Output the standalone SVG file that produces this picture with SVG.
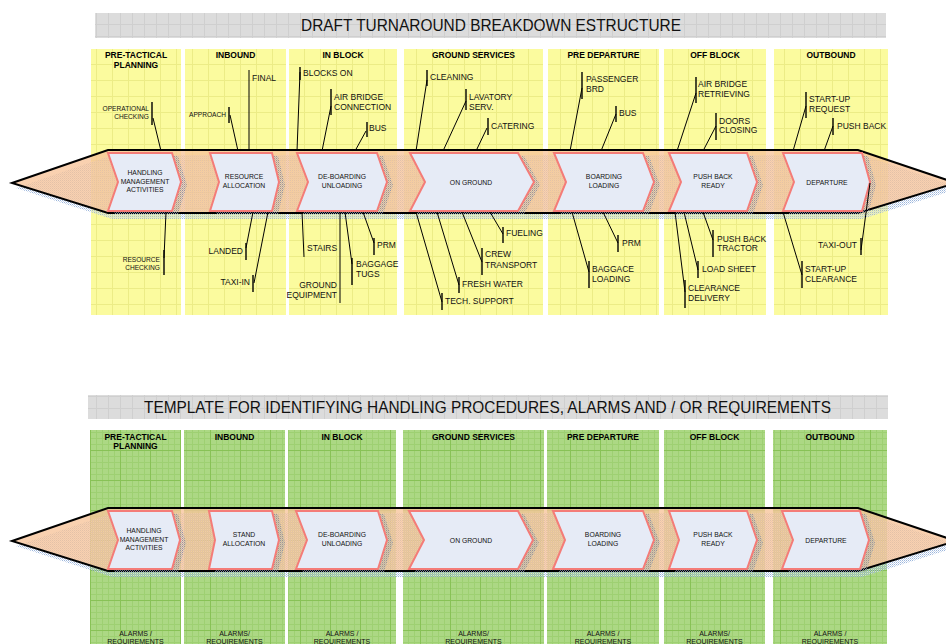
<svg xmlns="http://www.w3.org/2000/svg" width="946" height="644" viewBox="0 0 946 644">
  <style>
    .hdr{font-family:"Liberation Sans",Arial,sans-serif;font-weight:bold;font-size:8.5px;fill:#000;text-anchor:middle}
    .lbl{font-family:"Liberation Sans",Arial,sans-serif;font-size:8.5px;fill:#111}
    .sm{font-family:"Liberation Sans",Arial,sans-serif;font-size:6.6px;fill:#111}
    .nt{font-family:"Liberation Sans",Arial,sans-serif;font-size:6.8px;fill:#111;text-anchor:middle}
    .al{font-family:"Liberation Sans",Arial,sans-serif;font-size:7px;fill:#111;text-anchor:middle}
    .ttl{font-family:"Liberation Sans",Arial,sans-serif;font-size:17px;fill:#111;text-anchor:middle}
    .end{text-anchor:end}
    .chev{fill:#e6ebf6;stroke:#f47c78;stroke-width:2}
    .csh{fill:url(#dots);opacity:.8}
    .band{fill:#f7c49a;fill-opacity:.78;stroke:none}
    .bout{fill:none;stroke:#000;stroke-width:2}
    .bsh{fill:url(#bdots)}
    .ld{stroke:#000;stroke-width:1;fill:none}
    .tk{stroke:#000;stroke-width:1.4;fill:none}
  </style>
  <defs>
    <pattern id="yel" width="16" height="16" patternUnits="userSpaceOnUse">
      <rect width="16" height="16" fill="#fbfb9e"/>
      <path d="M0 .5H16M.5 0V16" stroke="#ecec86" stroke-width="1"/>
    </pattern>
    <pattern id="grn" width="30" height="30" patternUnits="userSpaceOnUse">
      <rect width="30" height="30" fill="#acd884"/>
      <path d="M0 6.5H30M0 12.5H30M0 18.5H30M0 24.5H30M6.5 0V30M12.5 0V30M18.5 0V30M24.5 0V30" stroke="#9ed072" stroke-width="1"/>
      <path d="M0 .5H30M.5 0V30" stroke="#88c256" stroke-width="1"/>
    </pattern>
    <pattern id="gry" width="12" height="12" patternUnits="userSpaceOnUse">
      <rect width="12" height="12" fill="#dcdcdc"/>
      <path d="M0 .5H12M.5 0V12" stroke="#cfcfcf" stroke-width="1"/>
    </pattern>
    <!-- stippled fills for the drop shadows -->
    <pattern id="dots" width="2" height="2" patternUnits="userSpaceOnUse">
      <rect width="1" height="1" fill="#7d88a4"/>
      <rect x="1" y="1" width="1" height="1" fill="#a6afc4"/>
    </pattern>
    <pattern id="bdots" width="2" height="2" patternUnits="userSpaceOnUse">
      <rect width="1" height="1" fill="#9cb6dc"/>
      <rect x="1" y="1" width="1" height="1" fill="#c8d6ec"/>
    </pattern>
  </defs>

  <!-- title bars -->
  <rect x="95" y="13" width="791" height="25" fill="url(#gry)"/>
  <text class="ttl" x="491" y="31" textLength="380" lengthAdjust="spacingAndGlyphs">DRAFT TURNAROUND BREAKDOWN ESTRUCTURE</text>
  <rect x="88" y="395" width="800" height="24" fill="url(#gry)"/>
  <text class="ttl" x="487.5" y="413" textLength="687" lengthAdjust="spacingAndGlyphs">TEMPLATE FOR IDENTIFYING HANDLING PROCEDURES, ALARMS AND / OR REQUIREMENTS</text>

  <!-- phase columns, upper chart -->
  <g id="phases-top">
    <rect x="91" y="49" width="90" height="266" fill="url(#yel)"/>
    <rect x="185" y="49" width="101" height="266" fill="url(#yel)"/>
    <rect x="289" y="49" width="108" height="266" fill="url(#yel)"/>
    <rect x="404" y="49" width="139" height="266" fill="url(#yel)"/>
    <rect x="548" y="49" width="111" height="266" fill="url(#yel)"/>
    <rect x="664" y="49" width="102" height="266" fill="url(#yel)"/>
    <rect x="774" y="49" width="114" height="266" fill="url(#yel)"/>
    <text class="hdr" x="136" y="58">PRE-TACTICAL</text>
    <text class="hdr" x="136" y="68">PLANNING</text>
    <text class="hdr" x="235.5" y="58">INBOUND</text>
    <text class="hdr" x="343" y="58">IN BLOCK</text>
    <text class="hdr" x="473.5" y="58">GROUND SERVICES</text>
    <text class="hdr" x="603.5" y="58">PRE DEPARTURE</text>
    <text class="hdr" x="715" y="58">OFF BLOCK</text>
    <text class="hdr" x="831" y="58">OUTBOUND</text>
  </g>

  <!-- phase columns, lower chart -->
  <g id="phases-bottom">
    <rect x="90" y="430" width="91" height="214" fill="url(#grn)"/>
    <rect x="184" y="430" width="101" height="214" fill="url(#grn)"/>
    <rect x="288" y="430" width="108" height="214" fill="url(#grn)"/>
    <rect x="403" y="430" width="141" height="214" fill="url(#grn)"/>
    <rect x="547" y="430" width="112" height="214" fill="url(#grn)"/>
    <rect x="664" y="430" width="101" height="214" fill="url(#grn)"/>
    <rect x="773" y="430" width="114" height="214" fill="url(#grn)"/>
    <text class="hdr" x="135.5" y="440">PRE-TACTICAL</text>
    <text class="hdr" x="135.5" y="449">PLANNING</text>
    <text class="hdr" x="234.5" y="440">INBOUND</text>
    <text class="hdr" x="342" y="440">IN BLOCK</text>
    <text class="hdr" x="473.5" y="440">GROUND SERVICES</text>
    <text class="hdr" x="603" y="440">PRE DEPARTURE</text>
    <text class="hdr" x="714.5" y="440">OFF BLOCK</text>
    <text class="hdr" x="830" y="440">OUTBOUND</text>
    <text class="al" x="135.5" y="636">ALARMS /</text><text class="al" x="135.5" y="644">REQUIREMENTS</text>
    <text class="al" x="234.5" y="636">ALARMS/</text><text class="al" x="234.5" y="644">REQUIREMENTS</text>
    <text class="al" x="342" y="636">ALARMS /</text><text class="al" x="342" y="644">REQUIREMENTS</text>
    <text class="al" x="473.5" y="636">ALARMS/</text><text class="al" x="473.5" y="644">REQUIREMENTS</text>
    <text class="al" x="603" y="636">ALARMS /</text><text class="al" x="603" y="644">REQUIREMENTS</text>
    <text class="al" x="714.5" y="636">ALARMS/</text><text class="al" x="714.5" y="644">REQUIREMENTS</text>
    <text class="al" x="830" y="636">ALARMS /</text><text class="al" x="830" y="644">REQUIREMENTS</text>
  </g>

  <!-- upper process band -->
  <g id="band-top">
    <polygon class="bsh" points="16,188 112,155 862,155 960,188 862,219 112,219"/>
    <polygon class="band" points="12,183 108,150 858,150 956,183 858,213 108,213"/>
    <polygon class="bout" points="12,183 108,150 858,150 956,183 858,213 108,213"/>
    <polygon class="csh" points="114,156 178,156 187,185 178,214 114,214 124,185"/>
    <polygon class="csh" points="216,156 278,156 285,185 278,214 216,214 225,185"/>
    <polygon class="csh" points="303,156 383,156 393,185 383,214 303,214 314,185"/>
    <polygon class="csh" points="416,156 524,156 540,185 524,214 416,214 431,185"/>
    <polygon class="csh" points="560,156 649,156 660,185 649,214 560,214 572,185"/>
    <polygon class="csh" points="675,156 753,156 763,185 753,214 675,214 687,185"/>
    <polygon class="csh" points="789,156 868,156 876,185 868,214 789,214 800,185"/>
  </g>
  <g id="t-handling"><polygon class="chev" points="108,153 172,153 181,182 172,211 108,211 118,182"/>
    <text class="nt" x="145" y="175">HANDLING</text><text class="nt" x="145" y="183.5">MANAGEMENT</text><text class="nt" x="145" y="192">ACTIVITIES</text></g>
  <g id="t-resource"><polygon class="chev" points="210,153 272,153 279,182 272,211 210,211 219,182"/>
    <text class="nt" x="244" y="179">RESOURCE</text><text class="nt" x="244" y="188">ALLOCATION</text></g>
  <g id="t-deboarding"><polygon class="chev" points="297,153 377,153 387,182 377,211 297,211 308,182"/>
    <text class="nt" x="342" y="179">DE-BOARDING</text><text class="nt" x="342" y="188">UNLOADING</text></g>
  <g id="t-onground"><polygon class="chev" points="410,153 518,153 534,182 518,211 410,211 425,182"/>
    <text class="nt" x="471" y="184.5">ON GROUND</text></g>
  <g id="t-boarding"><polygon class="chev" points="554,153 643,153 654,182 643,211 554,211 566,182"/>
    <text class="nt" x="604" y="179">BOARDING</text><text class="nt" x="604" y="188">LOADING</text></g>
  <g id="t-pushback"><polygon class="chev" points="669,153 747,153 757,182 747,211 669,211 681,182"/>
    <text class="nt" x="713" y="179">PUSH BACK</text><text class="nt" x="713" y="188">READY</text></g>
  <g id="t-departure"><polygon class="chev" points="783,153 862,153 870,182 862,211 783,211 794,182"/>
    <text class="nt" x="827" y="184.5">DEPARTURE</text></g>

  <!-- lower process band -->
  <g id="band-bottom">
    <polygon class="bsh" points="16,546 112,513 862,513 960,546 862,577 112,577"/>
    <polygon class="band" points="12,541 108,508 858,508 956,541 858,571 108,571"/>
    <polygon class="bout" points="12,541 108,508 858,508 956,541 858,571 108,571"/>
    <polygon class="csh" points="114,514 178,514 186,543 178,572 114,572 124,543"/>
    <polygon class="csh" points="215,514 278,514 285,543 278,572 215,572 221,543"/>
    <polygon class="csh" points="302,514 384,514 393,543 384,572 302,572 313,543"/>
    <polygon class="csh" points="415,514 524,514 539,543 524,572 415,572 430,543"/>
    <polygon class="csh" points="559,514 649,514 660,543 649,572 559,572 571,543"/>
    <polygon class="csh" points="675,514 753,514 763,543 753,572 675,572 685,543"/>
    <polygon class="csh" points="788,514 866,514 875,543 866,572 788,572 799,543"/>
  </g>
  <g id="b-handling"><polygon class="chev" points="108,511 172,511 180,540 172,569 108,569 118,540"/>
    <text class="nt" x="144" y="533">HANDLING</text><text class="nt" x="144" y="541.5">MANAGEMENT</text><text class="nt" x="144" y="550">ACTIVITIES</text></g>
  <g id="b-stand"><polygon class="chev" points="209,511 272,511 279,540 272,569 209,569 215,540"/>
    <text class="nt" x="244" y="537">STAND</text><text class="nt" x="244" y="546">ALLOCATION</text></g>
  <g id="b-deboarding"><polygon class="chev" points="296,511 378,511 387,540 378,569 296,569 307,540"/>
    <text class="nt" x="342" y="537">DE-BOARDING</text><text class="nt" x="342" y="546">UNLOADING</text></g>
  <g id="b-onground"><polygon class="chev" points="409,511 518,511 533,540 518,569 409,569 424,540"/>
    <text class="nt" x="471" y="542.5">ON GROUND</text></g>
  <g id="b-boarding"><polygon class="chev" points="553,511 643,511 654,540 643,569 553,569 565,540"/>
    <text class="nt" x="603" y="537">BOARDING</text><text class="nt" x="603" y="546">LOADING</text></g>
  <g id="b-pushback"><polygon class="chev" points="669,511 747,511 757,540 747,569 669,569 679,540"/>
    <text class="nt" x="713" y="537">PUSH BACK</text><text class="nt" x="713" y="546">READY</text></g>
  <g id="b-departure"><polygon class="chev" points="782,511 860,511 869,540 860,569 782,569 793,540"/>
    <text class="nt" x="826" y="542.5">DEPARTURE</text></g>

  <!-- leader lines from the band to each activity label -->
  <g id="connectors">
    <path class="tk" d="M152 102V125M164 250V275"/>
    <path class="ld" d="M153 118L161 151M166 212L164 258"/>
    <path class="tk" d="M229 107V123M246 243V260M253 275V292"/>
    <path class="ld" d="M230 115L238 151M249 70V151M253 212L246 248M268 212L254 283"/>
    <path class="tk" d="M300 67V80M331 89V115M367 122V137M352 258V285M374 238V255"/>
    <path class="ld" d="M300 72L297 151M331 106L322 151M366 131L355 151M302 212L304 257M340 212V303M345 212L352 264M363 212L374 243"/>
    <path class="tk" d="M427 70V86M466 89V110M488 118V135M503 227V243M482 248V275M459 277V293M442 293V310"/>
    <path class="ld" d="M427 80L416 151M466 101L443 151M487 128L476 151M490 212L503 234M462 212L482 262M437 212L459 285M416 212L442 302"/>
    <path class="tk" d="M582 72V99M616 106V122M618 235V252M589 261V288"/>
    <path class="ld" d="M582 88L570 151M616 114L601 151M603 212L618 243M572 212L589 272"/>
    <path class="tk" d="M696 77V103M716 113V140M713 230V257M698 261V278M685 280V308"/>
    <path class="ld" d="M696 93L677 151M716 126L703 151M703 212L713 240M684 212L698 270M675 212L685 292"/>
    <path class="tk" d="M806 92V118M833 118V135M861 238V255M802 261V288"/>
    <path class="ld" d="M806 106L793 151M833 126L824 151M870 183L861 250M783 212L802 275"/>
  </g>

  <!-- activity labels -->
  <g id="lbl-pretactical">
    <text class="sm end" x="149" y="110.5">OPERATIONAL</text><text class="sm end" x="149" y="118.5">CHECKING</text>
    <text class="sm end" x="160" y="261.5">RESOURCE</text><text class="sm end" x="160" y="269.5">CHECKING</text>
  </g>
  <g id="lbl-inbound">
    <text class="sm end" x="226" y="116.5">APPROACH</text>
    <text class="lbl" x="252" y="81">FINAL</text>
    <text class="lbl end" x="243" y="254">LANDED</text>
    <text class="lbl end" x="250" y="285">TAXI-IN</text>
  </g>
  <g id="lbl-inblock">
    <text class="lbl" x="303" y="76">BLOCKS ON</text>
    <text class="lbl" x="334" y="100">AIR BRIDGE</text><text class="lbl" x="334" y="110">CONNECTION</text>
    <text class="lbl" x="369" y="131">BUS</text>
    <text class="lbl" x="307" y="251">STAIRS</text>
    <text class="lbl end" x="337" y="288">GROUND</text><text class="lbl end" x="337" y="297.5">EQUIPMENT</text>
    <text class="lbl" x="356" y="267">BAGGAGE</text><text class="lbl" x="356" y="277">TUGS</text>
    <text class="lbl" x="377" y="248">PRM</text>
  </g>
  <g id="lbl-ground">
    <text class="lbl" x="430" y="80">CLEANING</text>
    <text class="lbl" x="469" y="100">LAVATORY</text><text class="lbl" x="469" y="110">SERV.</text>
    <text class="lbl" x="491" y="129">CATERING</text>
    <text class="lbl" x="506" y="236">FUELING</text>
    <text class="lbl" x="485" y="257">CREW</text><text class="lbl" x="485" y="268">TRANSPORT</text>
    <text class="lbl" x="462" y="287">FRESH WATER</text>
    <text class="lbl" x="445" y="304">TECH. SUPPORT</text>
  </g>
  <g id="lbl-predeparture">
    <text class="lbl" x="586" y="82">PASSENGER</text><text class="lbl" x="586" y="92">BRD</text>
    <text class="lbl" x="619" y="116">BUS</text>
    <text class="lbl" x="622" y="246">PRM</text>
    <text class="lbl" x="592" y="272">BAGGACE</text><text class="lbl" x="592" y="282">LOADING</text>
  </g>
  <g id="lbl-offblock">
    <text class="lbl" x="698" y="87">AIR BRIDGE</text><text class="lbl" x="698" y="97">RETRIEVING</text>
    <text class="lbl" x="719" y="124">DOORS</text><text class="lbl" x="719" y="133">CLOSING</text>
    <text class="lbl" x="717" y="242">PUSH BACK</text><text class="lbl" x="717" y="251">TRACTOR</text>
    <text class="lbl" x="702" y="272">LOAD SHEET</text>
    <text class="lbl" x="688" y="291">CLEARANCE</text><text class="lbl" x="688" y="301">DELIVERY</text>
  </g>
  <g id="lbl-outbound">
    <text class="lbl" x="809" y="102">START-UP</text><text class="lbl" x="809" y="112">REQUEST</text>
    <text class="lbl" x="837" y="129">PUSH BACK</text>
    <text class="lbl end" x="857" y="248">TAXI-OUT</text>
    <text class="lbl" x="805" y="272">START-UP</text><text class="lbl" x="805" y="282">CLEARANCE</text>
  </g>
</svg>
